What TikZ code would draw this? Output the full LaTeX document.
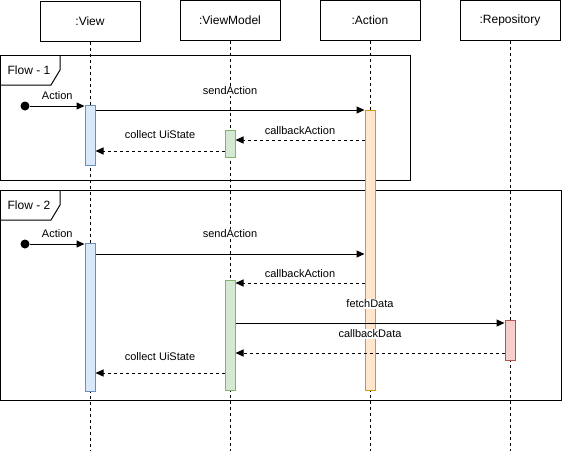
\documentclass[tikz,border=0pt]{standalone}
\usepackage{fontspec}
\setmainfont{Liberation Sans}
\usetikzlibrary{arrows.meta}
\definecolor{viewfill}{HTML}{DAE8FC}
\definecolor{viewline}{HTML}{6C8EBF}
\definecolor{vmfill}{HTML}{D5E8D4}
\definecolor{vmline}{HTML}{82B366}
\definecolor{actfill}{HTML}{FFE6CC}
\definecolor{actline}{HTML}{D79B00}
\definecolor{repofill}{HTML}{F8CECC}
\definecolor{repoline}{HTML}{B85450}
\begin{document}
\begin{tikzpicture}[x=0.75pt,y=-0.75pt,line width=0.75pt,
  head/.style={draw,minimum width=75pt,minimum height=30pt,inner sep=0pt,font=\fontsize{9}{10}\selectfont},
  bar/.style={draw,minimum width=7.5pt,inner sep=0pt},
  lbl/.style={fill=white,inner sep=0.8pt,font=\fontsize{8.25}{9}\selectfont},
  flow/.style={inner sep=0pt,font=\fontsize{9}{10}\selectfont},
  dot/.style={circle,fill,inner sep=0pt,minimum size=6.75pt},
  msg/.style={-{Triangle[length=6pt,width=5.25pt]}},
  reply/.style={msg,dash pattern=on 2.25pt off 2.25pt},
  life/.style={dash pattern=on 2.25pt off 2.25pt}]
  \useasboundingbox (0,0) rectangle (562,451);
  %teste
  \node[head] (view) at (90,21) {:View};
  \node[head] (vm) at (230,20) {:ViewModel};
  \node[head] (act) at (370,20) {:Action};
  \node[head] (repo) at (510,20) {:Repository};
  \coordinate (bot) at (0,451);
  \foreach \n in {view,vm,act,repo}
    \draw[life] (\n.south) -- (\n.south |- bot);
  %riquadri
  \draw (0.5,55) rectangle (410,180);
  \draw (0.5,85) -- (51,85) -- (60,70) -- (60,55);
  \node[flow] (f1) at (29,70) {Flow - 1};
  \draw (0.5,190) rectangle (561,400);
  \draw (0.5,220) -- (51,220) -- (60,205) -- (60,190);
  \node[flow] (f2) at (29,205) {Flow - 2};
  %attivazioni
  \node[bar,fill=actfill,draw=actline,minimum height=210pt] (aA) at (370,250) {};
  \node[bar,fill=viewfill,draw=viewline,minimum height=45pt] (vA1) at (90,135) {};
  \node[bar,fill=vmfill,draw=vmline,minimum height=20.25pt] (mA1) at (230,143.5) {};
  \node[bar,fill=viewfill,draw=viewline,minimum height=111pt] (vA2) at (90,317) {};
  \node[bar,fill=vmfill,draw=vmline,minimum height=82.5pt] (mA2) at (230,335) {};
  \node[bar,fill=repofill,draw=repoline,minimum height=30pt] (rA) at (510,340) {};
  %messaggi flow 1
  \node[dot] (s1) at (25,106) {};
  \coordinate (r1) at (0,110);
  \coordinate (r2) at (0,140);
  \coordinate (r3) at (0,151);
  \draw[msg] (s1) -- (vA1.west |- s1) node[lbl,midway,yshift=7.5pt] {Action};
  \draw[msg] (vA1.east |- r1) -- (aA.west |- r1) node[lbl,midway,yshift=14.25pt] {sendAction};
  \draw[reply] (aA.west |- r2) -- (mA1.east |- r2) node[lbl,midway,yshift=6.75pt] {callbackAction};
  \draw[reply] (mA1.west |- r3) -- (vA1.east |- r3) node[lbl,midway,yshift=12pt] {collect UiState};
  %messaggi flow 2
  \node[dot] (s2) at (25,244) {};
  \coordinate (r4) at (0,254);
  \coordinate (r5) at (0,283);
  \coordinate (r6) at (0,323);
  \coordinate (r7) at (0,353);
  \coordinate (r8) at (0,373);
  \draw[msg] (s2) -- (vA2.west |- s2) node[lbl,midway,yshift=7.5pt] {Action};
  \draw[msg] (vA2.east |- r4) -- (aA.west |- r4) node[lbl,midway,yshift=15pt] {sendAction};
  \draw[reply] (aA.west |- r5) -- (mA2.east |- r5) node[lbl,midway,yshift=6.75pt] {callbackAction};
  \draw[msg] (mA2.east |- r6) -- (rA.west |- r6) node[lbl,midway,yshift=14.25pt] {fetchData};
  \draw[reply] (rA.west |- r7) -- (mA2.east |- r7) node[lbl,midway,yshift=14.25pt] {callbackData};
  \draw[reply] (mA2.west |- r8) -- (vA2.east |- r8) node[lbl,midway,yshift=12pt] {collect UiState};
\end{tikzpicture}
\end{document}
